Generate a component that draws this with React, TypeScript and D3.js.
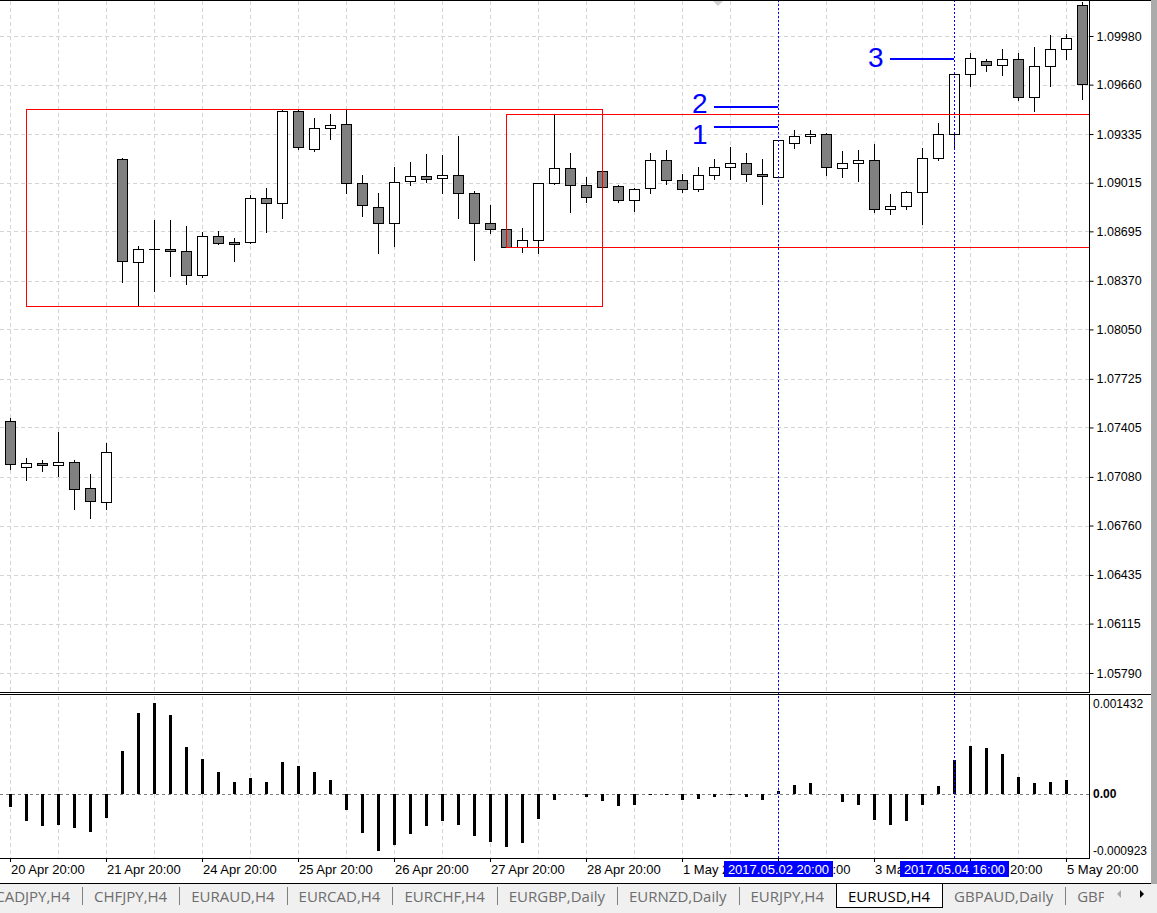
import React, { useEffect, useRef } from 'react';
import * as d3 from 'd3';

// EURUSD H4, 20 Apr 20:00 .. 5 May 20:00 (one entry per bar)
const opens = [
    1.07448, 1.07147, 1.07171, 1.07156, 1.07176, 1.07005, 1.06913, 1.09169, 1.08492, 1.08577,
    1.08577, 1.08564, 1.08406, 1.08663, 1.08623, 1.08623, 1.08913, 1.08880, 1.09485, 1.09235,
    1.09373, 1.09399, 1.09015, 1.08857, 1.08748, 1.09024, 1.09057, 1.09044, 1.09064, 1.08945,
    1.08748, 1.08709, 1.08594, 1.08636, 1.09011, 1.09110, 1.08998, 1.09090, 1.08992, 1.08899,
    1.08978, 1.09162, 1.09031, 1.08972, 1.09064, 1.09116, 1.09143, 1.09074, 1.09051, 1.09274,
    1.09320, 1.09334, 1.09110, 1.09143, 1.09162, 1.08840, 1.08860, 1.08952, 1.09176, 1.09334,
    1.09728, 1.09814, 1.09787, 1.09827, 1.09577, 1.09781, 1.09893, 1.10182
];
const highs = [
    1.07467, 1.07204, 1.07191, 1.07375, 1.07189, 1.07099, 1.07303, 1.09178, 1.08597, 1.08770,
    1.08770, 1.08730, 1.08689, 1.08697, 1.08649, 1.08934, 1.08978, 1.09493, 1.09493, 1.09441,
    1.09465, 1.09498, 1.09064, 1.08945, 1.09116, 1.09149, 1.09204, 1.09197, 1.09322, 1.08959,
    1.08868, 1.08709, 1.08717, 1.09011, 1.09461, 1.09209, 1.09051, 1.09090, 1.08998, 1.08982,
    1.09209, 1.09228, 1.09070, 1.09116, 1.09169, 1.09248, 1.09209, 1.09169, 1.09294, 1.09362,
    1.09362, 1.09340, 1.09222, 1.09228, 1.09268, 1.08939, 1.08959, 1.09242, 1.09406, 1.09735,
    1.09866, 1.09827, 1.09893, 1.09866, 1.09906, 1.09987, 1.09991, 1.10202
];
const lows = [
    1.07132, 1.07062, 1.07121, 1.07086, 1.06871, 1.06812, 1.06867, 1.08364, 1.08204, 1.08305,
    1.08404, 1.08347, 1.08397, 1.08615, 1.08502, 1.08620, 1.08693, 1.08785, 1.09235, 1.09226,
    1.09301, 1.08945, 1.08798, 1.08551, 1.08601, 1.09000, 1.09022, 1.08949, 1.08785, 1.08509,
    1.08686, 1.08590, 1.08561, 1.08555, 1.09008, 1.08824, 1.08886, 1.08985, 1.08886, 1.08831,
    1.08945, 1.09005, 1.08952, 1.08959, 1.09040, 1.09038, 1.09028, 1.08873, 1.09051, 1.09245,
    1.09278, 1.09068, 1.09055, 1.09028, 1.08820, 1.08807, 1.08840, 1.08742, 1.09162, 1.09242,
    1.09649, 1.09748, 1.09722, 1.09557, 1.09485, 1.09649, 1.09831, 1.09564
];
const closes = [
    1.07165, 1.07171, 1.07156, 1.07178, 1.07002, 1.06919, 1.07242, 1.08498, 1.08577, 1.08577,
    1.08564, 1.08406, 1.08663, 1.08617, 1.08614, 1.08913, 1.08880, 1.09485, 1.09248, 1.09373,
    1.09393, 1.09015, 1.08867, 1.08748, 1.09022, 1.09057, 1.09042, 1.09064, 1.08945, 1.08748,
    1.08709, 1.08594, 1.08638, 1.09011, 1.09110, 1.08998, 1.08919, 1.08985, 1.08899, 1.08976,
    1.09162, 1.09031, 1.08972, 1.09064, 1.09116, 1.09143, 1.09070, 1.09057, 1.09294, 1.09320,
    1.09334, 1.09116, 1.09143, 1.09162, 1.08840, 1.08860, 1.08952, 1.09176, 1.09334, 1.09728,
    1.09833, 1.09787, 1.09827, 1.09577, 1.09781, 1.09893, 1.09965, 1.09662
];

// oscillator in the lower window
const histValues = [
    -0.000187, -0.000388, -0.000466, -0.000451, -0.000491, -0.000550, -0.000344, 0.000638, 0.001197, 0.001344,
    0.001168, 0.000697, 0.000520, 0.000334, 0.000187, 0.000240, 0.000182, 0.000476, 0.000417, 0.000334,
    0.000211, -0.000226, -0.000569, -0.000829, -0.000746, -0.000584, -0.000466, -0.000388, -0.000451, -0.000609,
    -0.000702, -0.000770, -0.000716, -0.000358, -0.000079, 0.000010, -0.000044, -0.000093, -0.000167, -0.000152,
    -0.000005, -0.000015, -0.000079, -0.000064, -0.000034, -0.000005, -0.000034, -0.000079, 0.000049, 0.000137,
    0.000167, 0.000000, -0.000108, -0.000152, -0.000373, -0.000446, -0.000388, -0.000157, 0.000123, 0.000505,
    0.000711, 0.000682, 0.000594, 0.000255, 0.000167, 0.000182, 0.000216, 0.000000
];

const priceTicks = [1.0998, 1.0966, 1.09335, 1.09015, 1.08695, 1.0837, 1.0805, 1.07725, 1.07405, 1.0708, 1.0676, 1.06435, 1.06115, 1.0579];
const histMax = 0.001432;
const histMin = -0.000923;

const timeLabels = ['20 Apr 20:00', '21 Apr 20:00', '24 Apr 20:00', '25 Apr 20:00', '26 Apr 20:00', '27 Apr 20:00',
    '28 Apr 20:00', '1 May 20:00', '2 May 20:00', '3 May 20:00', '4 May 20:00', '5 May 20:00'];
const timeLabelBars = [0, 6, 12, 18, 24, 30, 36, 42, 48, 54, 60, 66];

const markerBars = [48, 59];
const markerLabels = ['2017.05.02 20:00', '2017.05.04 16:00'];

// rectangles: bar range and price range
const boxFrom = [1, 31];
const boxTo = [37, 75];
const boxHigh = [1.09497, 1.09465];
const boxLow = [1.08204, 1.08590];

// numbered levels
const levelNames = ['2', '1', '3'];
const levelPrices = [1.09515, 1.09383, 1.09831];
const levelFrom = [44, 44, 55];
const levelTo = [48, 48, 59];
const levelTextBar = [43.6, 43.6, 54.6];
const levelTextPrice = [1.09472, 1.09270, 1.09776];

const tabs = ['CADJPY,H4', 'CHFJPY,H4', 'EURAUD,H4', 'EURCAD,H4', 'EURCHF,H4', 'EURGBP,Daily',
    'EURNZD,Daily', 'EURJPY,H4', 'EURUSD,H4', 'GBPAUD,Daily', 'GBPCHF,Daily'];
const activeTab = 'EURUSD,H4';

const W = 1157, H = 913;
const plotRight = 1089;
const mainBottom = 692;
const subTop = 695, subBottom = 858;
const barStep = 16;
const font = '"Liberation Sans", Arial, sans-serif';
const tabFont = '"Open Sans", sans-serif';

const App = () => {
    const canvas = useRef<SVGSVGElement>(null);

    useEffect(() => {
        const svg = d3.select(canvas.current);
        svg.selectAll('*').remove();

        const n = opens.length;
        const idx = d3.range(n);
        const x = d3.scaleLinear().domain([0, n - 1]).range([10, 10 + barStep * (n - 1)]);
        const y = d3.scaleLinear().domain([1.0579, 1.0998]).range([673, 36]);
        const hy = d3.scaleLinear().domain([histMin, histMax]).range([857, 697]);
        const px = (v: number) => Math.round(v) + 0.5;

        const defs = svg.append('defs');
        defs.append('clipPath').attr('id', 'clip-main').append('rect')
            .attr('x', 0).attr('y', 0).attr('width', plotRight).attr('height', mainBottom);
        defs.append('clipPath').attr('id', 'clip-sub').append('rect')
            .attr('x', 0).attr('y', subTop).attr('width', plotRight).attr('height', subBottom - subTop);
        defs.append('clipPath').attr('id', 'clip-tabs').append('rect')
            .attr('x', 0).attr('y', 880).attr('width', 1104).attr('height', 33);

        svg.append('rect').attr('width', W).attr('height', H).attr('fill', '#fff');

        // grid
        const grid = svg.append('g').attr('stroke', '#d4d4d4').attr('stroke-dasharray', '4,3').attr('shape-rendering', 'crispEdges');
        const gridBars = d3.range(0, n, 3);
        grid.selectAll('line.vm').data(gridBars).join('line').attr('class', 'vm')
            .attr('x1', d => px(x(d))).attr('x2', d => px(x(d))).attr('y1', 1).attr('y2', mainBottom);
        grid.selectAll('line.vs').data(gridBars).join('line').attr('class', 'vs')
            .attr('x1', d => px(x(d))).attr('x2', d => px(x(d))).attr('y1', subTop + 1).attr('y2', subBottom);
        grid.selectAll('line.h').data(priceTicks).join('line').attr('class', 'h')
            .attr('x1', 0).attr('x2', plotRight).attr('y1', d => px(y(d))).attr('y2', d => px(y(d)));

        // candles
        const main = svg.append('g').attr('clip-path', 'url(#clip-main)').attr('shape-rendering', 'crispEdges');
        main.selectAll('line.wick').data(idx).join('line').attr('class', 'wick')
            .attr('x1', i => px(x(i))).attr('x2', i => px(x(i)))
            .attr('y1', i => Math.round(y(highs[i]))).attr('y2', i => Math.round(y(lows[i])) + 1)
            .attr('stroke', '#000');
        const isFlat = (i: number) => Math.abs(y(opens[i]) - y(closes[i])) < 1;
        main.selectAll('rect.body').data(idx.filter(i => !isFlat(i))).join('rect').attr('class', 'body')
            .attr('x', i => Math.round(x(i)) - 4.5).attr('width', 10)
            .attr('y', i => px(y(Math.max(opens[i], closes[i]))))
            .attr('height', i => Math.round(y(Math.min(opens[i], closes[i]))) - Math.round(y(Math.max(opens[i], closes[i]))))
            .attr('fill', i => closes[i] >= opens[i] ? '#fff' : '#808080')
            .attr('stroke', '#000');
        main.selectAll('line.doji').data(idx.filter(isFlat)).join('line').attr('class', 'doji')
            .attr('x1', i => x(i) - 5).attr('x2', i => x(i) + 6)
            .attr('y1', i => px(y(closes[i]))).attr('y2', i => px(y(closes[i])))
            .attr('stroke', '#000');

        // rectangles
        main.selectAll('rect.box').data(boxFrom).join('rect').attr('class', 'box')
            .attr('x', d => px(x(d))).attr('width', (d, i) => Math.round(x(boxTo[i]) - x(d)))
            .attr('y', (d, i) => px(y(boxHigh[i]))).attr('height', (d, i) => Math.round(y(boxLow[i]) - y(boxHigh[i])))
            .attr('fill', 'none').attr('stroke', '#ff0000');

        // oscillator
        const sub = svg.append('g').attr('clip-path', 'url(#clip-sub)').attr('shape-rendering', 'crispEdges');
        const zeroY = Math.round(hy(0));
        sub.append('line').attr('x1', 0).attr('x2', plotRight + 4).attr('y1', zeroY + 0.5).attr('y2', zeroY + 0.5)
            .attr('stroke', '#808080').attr('stroke-dasharray', '3,3');
        sub.selectAll('rect.bar').data(idx).join('rect').attr('class', 'bar')
            .attr('x', i => x(i) - 1).attr('width', 3)
            .attr('y', i => Math.round(hy(Math.max(0, histValues[i]))))
            .attr('height', i => Math.round(hy(Math.min(0, histValues[i]))) - Math.round(hy(Math.max(0, histValues[i]))))
            .attr('fill', '#000');

        // vertical markers
        svg.append('g').attr('shape-rendering', 'crispEdges')
            .selectAll('line').data(markerBars).join('line')
            .attr('x1', d => px(x(d))).attr('x2', d => px(x(d))).attr('y1', 0).attr('y2', subBottom)
            .attr('stroke', '#0000ff').attr('stroke-dasharray', '2,2');

        // numbered levels
        const lv = svg.append('g');
        lv.selectAll('line').data(levelPrices).join('line')
            .attr('x1', (d, i) => x(levelFrom[i])).attr('x2', (d, i) => x(levelTo[i]))
            .attr('y1', d => Math.round(y(d))).attr('y2', d => Math.round(y(d)))
            .attr('stroke', '#0000ff').attr('stroke-width', 2).attr('shape-rendering', 'crispEdges');
        lv.selectAll('text').data(levelNames).join('text')
            .attr('x', (d, i) => x(levelTextBar[i])).attr('y', (d, i) => y(levelTextPrice[i]))
            .attr('text-anchor', 'end').attr('font-family', font).attr('font-size', 28).attr('fill', '#0000ff')
            .text(d => d);

        // small shift marker at top
        svg.append('path').attr('d', 'M712,0L724,0L718,6Z').attr('fill', '#d0d0d0');

        // frames
        const frame = svg.append('g').attr('stroke', '#000').attr('shape-rendering', 'crispEdges');
        frame.append('line').attr('x1', 0).attr('x2', 1151).attr('y1', 0.5).attr('y2', 0.5);
        frame.append('line').attr('x1', plotRight + 0.5).attr('x2', plotRight + 0.5).attr('y1', 0).attr('y2', mainBottom + 1);
        frame.append('line').attr('x1', 0).attr('x2', plotRight + 1).attr('y1', mainBottom + 0.5).attr('y2', mainBottom + 0.5);
        frame.append('line').attr('x1', 0).attr('x2', 1151).attr('y1', subTop - 0.5).attr('y2', subTop - 0.5);
        frame.append('line').attr('x1', plotRight + 0.5).attr('x2', plotRight + 0.5).attr('y1', subTop).attr('y2', subBottom + 1);
        frame.append('line').attr('x1', 0).attr('x2', plotRight + 1).attr('y1', subBottom + 0.5).attr('y2', subBottom + 0.5);

        // price axis
        const priceAxis = d3.axisRight(y).tickValues(priceTicks).tickFormat(d3.format('.5f'))
            .tickSize(4).tickPadding(3).tickSizeOuter(0);
        svg.append('g').attr('transform', `translate(${plotRight + 0.5},0)`).call(priceAxis)
            .attr('font-size', 12.5).attr('font-family', font)
            .call(g => g.select('.domain').remove())
            .call(g => g.selectAll('text').attr('fill', '#000'));

        // oscillator scale
        const subAxis = svg.append('g').attr('font-family', font).attr('font-size', 12).attr('fill', '#000');
        subAxis.append('text').attr('x', plotRight + 4).attr('y', hy(histMax) + 11).text(histMax.toFixed(6));
        subAxis.append('text').attr('x', plotRight + 4).attr('y', hy(0) + 4).attr('font-weight', 'bold').text('0.00');
        subAxis.append('text').attr('x', plotRight + 4).attr('y', hy(histMin) - 2).text(histMin.toFixed(6));

        // time axis
        const tAxis = svg.append('g');
        tAxis.selectAll('line').data(timeLabelBars).join('line')
            .attr('x1', d => px(x(d))).attr('x2', d => px(x(d))).attr('y1', subBottom).attr('y2', subBottom + 4)
            .attr('stroke', '#000').attr('shape-rendering', 'crispEdges');
        tAxis.selectAll('text').data(timeLabels).join('text')
            .attr('x', (d, i) => x(timeLabelBars[i]) + 1).attr('y', 874)
            .attr('font-family', font).attr('font-size', 13).attr('fill', '#000')
            .text(d => d);

        const marks = svg.append('g');
        marks.selectAll('rect').data(markerBars).join('rect')
            .attr('x', d => x(d) - 54).attr('width', 109).attr('y', 861).attr('height', 16)
            .attr('fill', '#0000ff');
        marks.selectAll('text').data(markerLabels).join('text')
            .attr('x', d => 0).attr('x', (d, i) => x(markerBars[i]) + 0.5).attr('y', 874).attr('text-anchor', 'middle')
            .attr('font-family', font).attr('font-size', 13).attr('fill', '#fff')
            .text(d => d);

        // right edge strip
        svg.append('rect').attr('x', 1151).attr('y', 0).attr('width', 6).attr('height', 884).attr('fill', '#ababab');

        // tab bar
        svg.append('rect').attr('x', 0).attr('y', 884).attr('width', W).attr('height', H - 884).attr('fill', '#f0f0f0');
        svg.append('line').attr('x1', 0).attr('x2', 1151).attr('y1', 883.5).attr('y2', 883.5)
            .attr('stroke', '#000').attr('shape-rendering', 'crispEdges');

        const ctx = document.createElement('canvas').getContext('2d');
        ctx.font = '15px "Open Sans"';
        const widths = tabs.map(t => ctx.measureText(t).width + 24);
        let start = 82 - widths[0];
        const tabX = widths.map(w => { const s = start; start += w; return s; });
        const activeIdx = tabs.indexOf(activeTab);

        const tabG = svg.append('g').attr('clip-path', 'url(#clip-tabs)');
        const act = tabG.append('g').attr('shape-rendering', 'crispEdges');
        act.append('rect').attr('x', Math.round(tabX[activeIdx])).attr('y', 884)
            .attr('width', Math.round(widths[activeIdx])).attr('height', 24).attr('fill', '#fff');
        act.append('path')
            .attr('d', `M${Math.round(tabX[activeIdx]) + 0.5},884V${907.5}H${Math.round(tabX[activeIdx] + widths[activeIdx]) + 0.5}V884`)
            .attr('fill', 'none').attr('stroke', '#000');
        tabG.selectAll('line.sep').data(d3.range(tabs.length).filter(i => i !== activeIdx && i + 1 !== activeIdx))
            .join('line').attr('class', 'sep')
            .attr('x1', i => px(tabX[i] + widths[i])).attr('x2', i => px(tabX[i] + widths[i]))
            .attr('y1', 887).attr('y2', 905).attr('stroke', '#808080').attr('shape-rendering', 'crispEdges');
        tabG.selectAll('text').data(tabs).join('text')
            .attr('x', (d, i) => tabX[i] + widths[i] / 2).attr('y', 902).attr('text-anchor', 'middle')
            .attr('font-family', tabFont).attr('font-size', 15)
            .attr('fill', d => d === activeTab ? '#000' : '#6d6d6d')
            .text(d => d);

        svg.append('path').attr('d', 'M1121,890L1121,898L1117,894Z').attr('fill', '#a8a8a8');
        svg.append('path').attr('d', 'M1140,890L1140,898L1144,894Z').attr('fill', '#000');
    }, []);

    return (
        <svg
            ref={canvas}
            width={W}
            height={H}
            style={{ position: 'absolute', left: 0, top: 0, display: 'block' }}
        />
    );
};

export default App;
